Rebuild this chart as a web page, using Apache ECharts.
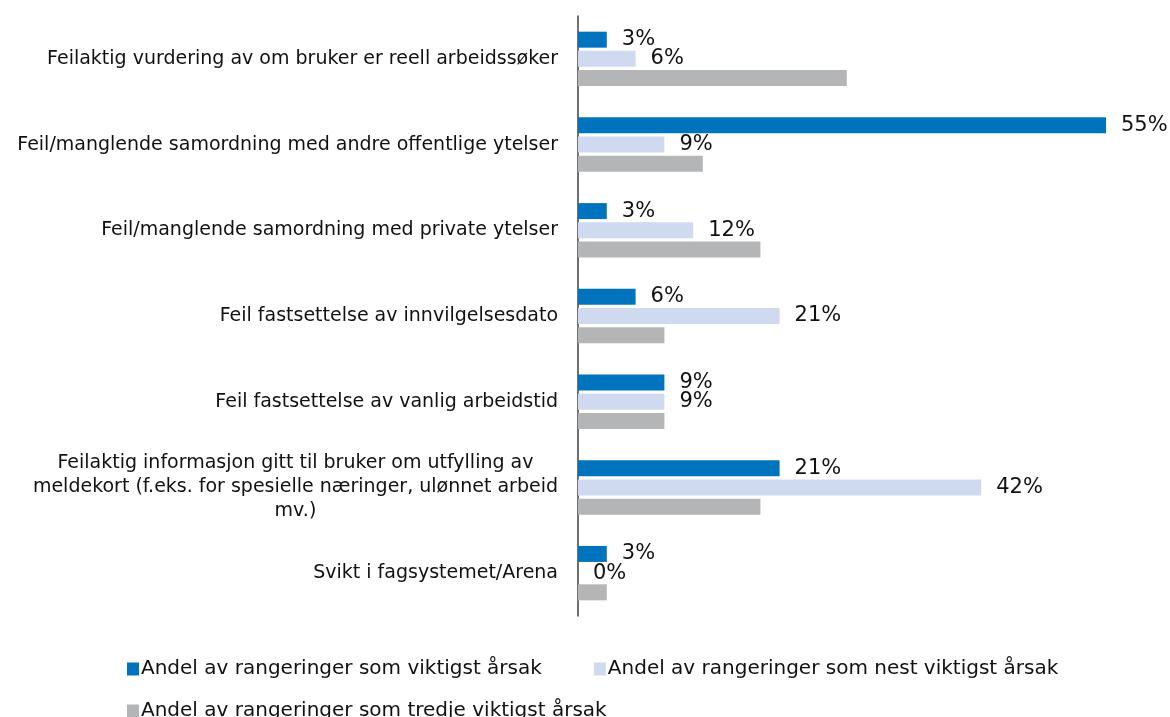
<!DOCTYPE html>
<html>
<head>
<meta charset="utf-8">
<script src="https://cdn.jsdelivr.net/npm/echarts@6/dist/echarts.min.js"></script>
<style>
  html, body { margin: 0; padding: 0; background: #fff; }
  #chart { width: 1170px; height: 717px; }
</style>
</head>
<body>
<div id="chart"></div>
<script>
// kategorier (ovenfra og ned)
var categories = [
  'Feilaktig vurdering av om bruker er reell arbeidssøker',
  'Feil/manglende samordning med andre offentlige ytelser',
  'Feil/manglende samordning med private ytelser',
  'Feil fastsettelse av innvilgelsesdato',
  'Feil fastsettelse av vanlig arbeidstid',
  'Feilaktig informasjon gitt til bruker om utfylling av\nmeldekort (f.eks. for spesielle næringer, ulønnet arbeid\nmv.)',
  'Svikt i fagsystemet/Arena'
];
var seriesNames = [
  'Andel av rangeringer som viktigst årsak',
  'Andel av rangeringer som nest viktigst årsak',
  'Andel av rangeringer som tredje viktigst årsak'
];
var viktigst = [3, 55, 3, 6, 9, 21, 3];
var nestViktigst = [6, 9, 12, 21, 9, 42, 0];
var tredjeViktigst = [28, 13, 19, 9, 9, 19, 3];

var font = 'DejaVu Sans';
var valueLabel = {
  show: true,
  position: 'right',
  distance: 15,
  color: '#111',
  fontFamily: font,
  fontSize: 21,
  formatter: '{c}%'
};
var legendText = { fontFamily: font, fontSize: 20, color: '#111', padding: [0, 0, 0, -3] };

var chart = echarts.init(document.getElementById('chart'));
chart.setOption({
  animation: false,
  color: ['#0073BE', '#CFD9F0', '#B4B5B7'],
  textStyle: { fontFamily: font },
  grid: { left: 578, right: 64, top: 16, bottom: 101, containLabel: false },
  legend: [
    {
      data: [seriesNames[0], seriesNames[1]],
      left: 122, top: 654,
      itemWidth: 12, itemHeight: 13, itemGap: 52,
      icon: 'rect',
      textStyle: legendText
    },
    {
      data: [seriesNames[2]],
      left: 122, top: 696,
      itemWidth: 12, itemHeight: 13,
      icon: 'rect',
      textStyle: legendText
    }
  ],
  xAxis: {
    type: 'value',
    min: 0, max: 55,
    show: false,
    splitLine: { show: false }
  },
  yAxis: {
    type: 'category',
    inverse: true,
    data: categories,
    axisLine: { show: true, lineStyle: { color: '#404040', width: 1.5 } },
    axisTick: { show: false },
    axisLabel: {
      margin: 20,
      fontFamily: font,
      fontSize: 19,
      color: '#111',
      lineHeight: 24,
      formatter: function (v) {
        return v.split('\n').map(function (s) { return '{c|' + s + '}'; }).join('\n');
      },
      rich: { c: { align: 'center', fontFamily: font, fontSize: 19, color: '#111', lineHeight: 24 } }
    }
  },
  series: [
    { name: seriesNames[0], type: 'bar', data: viktigst, barWidth: 16, barGap: '20%', label: valueLabel },
    { name: seriesNames[1], type: 'bar', data: nestViktigst, barWidth: 16, barGap: '20%', label: valueLabel },
    { name: seriesNames[2], type: 'bar', data: tredjeViktigst, barWidth: 16, barGap: '20%' }
  ]
});
</script>
</body>
</html>
